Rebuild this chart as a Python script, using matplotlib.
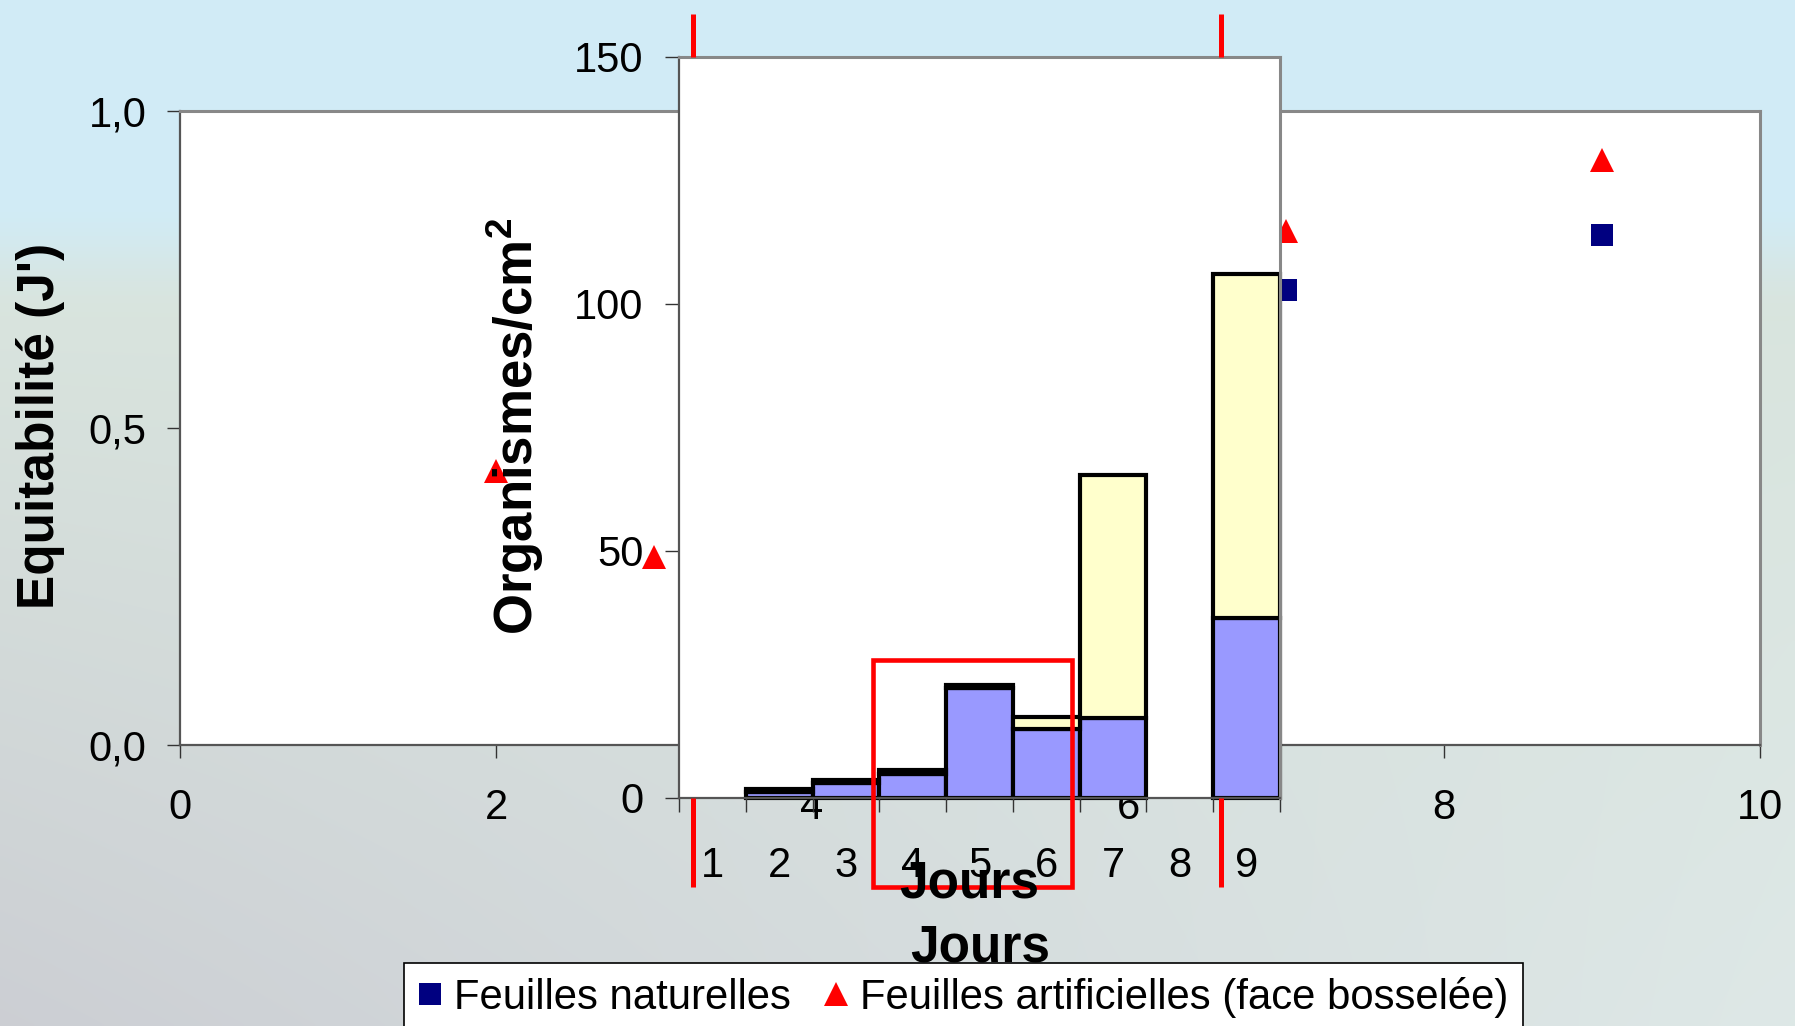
import numpy as np
import matplotlib
matplotlib.use("Agg")
import matplotlib.pyplot as plt
from matplotlib.patches import Rectangle
from matplotlib.lines import Line2D

plt.rcParams['font.family'] = ['Liberation Sans', 'DejaVu Sans']
plt.rcParams['mathtext.fontset'] = 'custom'
plt.rcParams['mathtext.rm'] = 'Liberation Sans'
plt.rcParams['mathtext.bf'] = 'Liberation Sans:bold'

# ---------------- data ----------------
outer_xticks = [0, 2, 4, 6, 8, 10]
outer_yticks = [0.0, 0.5, 1.0]
outer_ylabels = ['0,0', '0,5', '1,0']

nat_days = [7, 9]
nat_j = [0.717, 0.804]
art_days = [2, 3, 7, 9]
art_j = [0.432, 0.297, 0.810, 0.923]

bar_days = [1, 2, 3, 4, 5, 6, 7, 8, 9]
bar_lower = [0, 1.2, 3.0, 4.8, 22.1, 13.8, 16.1, 0, 36.3]
bar_upper = [0, 0.5, 0.5, 0.7, 0.6, 2.5, 49.2, 0, 69.8]
inset_yticks = [0, 50, 100, 150]

legend_labels = ['Feuilles naturelles', 'Feuilles artificielles (face bosselée)']

# ---------------- figure ----------------
W, H = 1795, 1026
fig = plt.figure(figsize=(W / 100, H / 100), dpi=100)

# background (sky -> meadow gradient)
bg = fig.add_axes([0, 0, 1, 1], zorder=-10)
bg.axis('off')
yy = np.linspace(0, 1, 257)[:, None]
xx = np.linspace(0, 1, 449)[None, :]
sky = np.array([0.82, 0.925, 0.965])
g_top = np.array([0.85, 0.895, 0.87])
g_bl = np.array([0.80, 0.81, 0.83])
g_br = np.array([0.87, 0.91, 0.905])
t = np.clip((yy - 0.19) / 0.12, 0, 1)
t = t * t * (3 - 2 * t)
gb = g_bl[None, None, :] * (1 - xx[..., None]) + g_br[None, None, :] * xx[..., None]
s = np.clip((yy - 0.3) / 0.7, 0, 1)[..., None]
ground = g_top[None, None, :] * (1 - s) + gb * s
img = sky[None, None, :] * (1 - t[..., None]) + ground * t[..., None]
bg.imshow(img, extent=[0, 1, 0, 1], aspect='auto', interpolation='bilinear')
bg.set_xlim(0, 1)
bg.set_ylim(0, 1)

# ---------------- outer scatter axes ----------------
ax = fig.add_axes([180 / W, 1 - 745 / H, 1580 / W, 634 / H])
ax.set_facecolor('white')
ax.set_xlim(0, 10)
ax.set_ylim(0, 1)
ax.plot(nat_days, nat_j, ls='none', marker='s', ms=16.5, color='#000080', mew=0)
ax.plot(art_days, art_j, ls='none', marker='^', ms=17, color='#FF0000', mew=0)
ax.set_xticks(outer_xticks)
ax.set_xticklabels([str(v) for v in outer_xticks])
ax.set_yticks(outer_yticks)
ax.set_yticklabels(outer_ylabels)
ax.tick_params(axis='x', direction='out', length=9, width=1, color='#333333',
               labelsize=30, pad=22)
ax.tick_params(axis='y', direction='out', length=9.5, width=1, color='#333333',
               labelsize=30, pad=14.5)
for side in ['top', 'right']:
    ax.spines[side].set_color('#888888')
    ax.spines[side].set_linewidth(2.2)
for side in ['left', 'bottom']:
    ax.spines[side].set_color('#555555')
    ax.spines[side].set_linewidth(1.6)

# ---------------- inset bar axes ----------------
ax2 = fig.add_axes([679 / W, 1 - 797.5 / H, 601 / W, (797.5 - 57) / H])
ax2.set_facecolor('white')
xd = np.array(bar_days)
lo = np.array(bar_lower)
up = np.array(bar_upper)
m = (lo + up) > 0
ax2.bar(xd[m], lo[m], width=1.0, color='#9999FF', edgecolor='black',
        linewidth=3, clip_on=False)
ax2.bar(xd[m], up[m], bottom=lo[m], width=1.0, color='#FFFFCC',
        edgecolor='black', linewidth=3, clip_on=False)
ax2.set_xlim(0.5, 9.5)
ax2.set_ylim(0, 150)
ax2.set_yticks(inset_yticks)
ax2.set_yticklabels([str(v) for v in inset_yticks])
ax2.set_xticks(np.arange(0.5, 10, 1.0))
ax2.set_xticklabels([])
ax2.set_xticks(bar_days, minor=True)
ax2.set_xticklabels([str(d) for d in bar_days], minor=True)
ax2.tick_params(axis='x', which='major', direction='out', length=10, width=1,
                color='#333333')
ax2.tick_params(axis='x', which='minor', length=0, labelsize=30, pad=35)
ax2.tick_params(axis='y', direction='out', length=10, width=1, color='#333333',
                labelsize=30, pad=15.5)
for side in ['top', 'right']:
    ax2.spines[side].set_color('#888888')
    ax2.spines[side].set_linewidth(2.2)
for side in ['left', 'bottom']:
    ax2.spines[side].set_color('#555555')
    ax2.spines[side].set_linewidth(1.6)

# red annotation marks
red_line_x = [0.71, 8.61]
for xr in red_line_x:
    ax2.plot([xr, xr], [150, 158.8], color='#FF0000', lw=3.6, clip_on=False,
             solid_capstyle='butt', zorder=10)
    ax2.plot([xr, xr], [0, -18.1], color='#FF0000', lw=3.6, clip_on=False,
             solid_capstyle='butt', zorder=10)
ax2.add_patch(Rectangle((3.405, -18.1), 2.98, 45.95, fill=False,
                        edgecolor='#FF0000', lw=3.3, clip_on=False, zorder=11))

# ---------------- labels ----------------
fig.text(54 / W, 1 - 426 / H, "Equitabilité (J')", rotation=90,
         rotation_mode='anchor', ha='center', va='baseline',
         fontsize=37, fontweight='bold')
fig.text(533 / W, 1 - 426 / H, r'Organismes/cm$^\mathbf{2}$', rotation=90,
         rotation_mode='anchor', ha='center', va='baseline',
         fontsize=38, fontweight='bold')
fig.text(969 / W, 1 - 898 / H, 'Jours', ha='center', va='baseline',
         fontsize=37, fontweight='bold', zorder=5)
fig.text(980 / W, 1 - 962 / H, 'Jours', ha='center', va='baseline',
         fontsize=37, fontweight='bold')

# ---------------- legend ----------------
handles = [Line2D([], [], ls='none', marker='s', ms=16, color='#000080', mew=0),
           Line2D([], [], ls='none', marker='^', ms=17, color='#FF0000', mew=0)]
leg = fig.legend(handles, legend_labels, loc='upper left',
                 bbox_to_anchor=(404 / W, 1 - 963 / H), ncol=2, fontsize=30.2,
                 frameon=True, fancybox=False, edgecolor='black', framealpha=1,
                 borderpad=0.33, handlelength=0.58, handletextpad=0.29,
                 columnspacing=0.78, borderaxespad=0)
leg.get_frame().set_linewidth(1.2)

fig.savefig('out.png', dpi=100)
